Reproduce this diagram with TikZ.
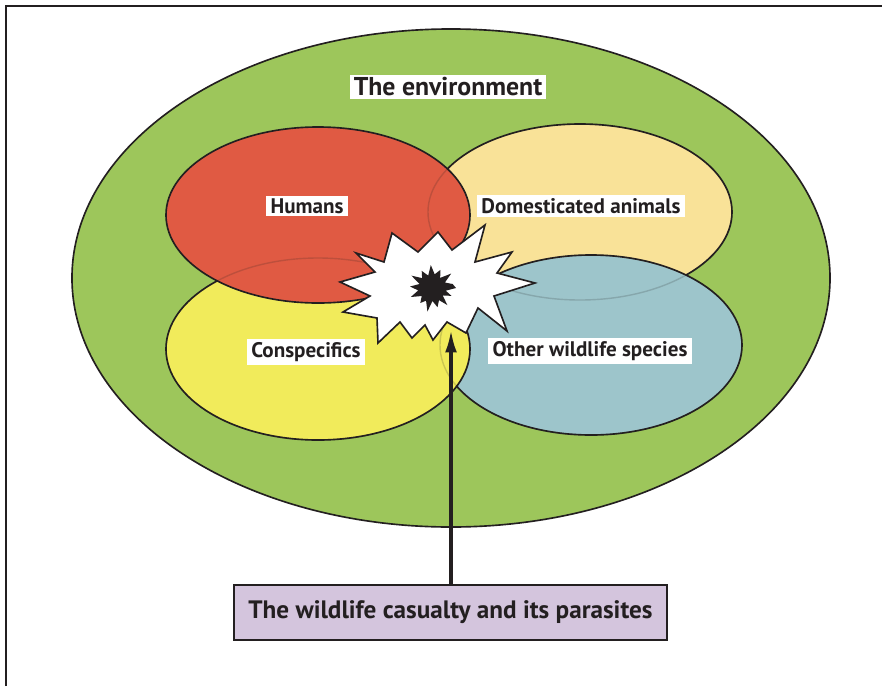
\documentclass[tikz,border=0pt]{standalone}
\usepackage{fontspec}
\setmainfont{PT Sans}
\usetikzlibrary{shapes.geometric,arrows.meta}
\definecolor{envgreen}{HTML}{9DC65B}
\definecolor{humred}{HTML}{E05A43}
\definecolor{domwheat}{HTML}{F9E298}
\definecolor{conyellow}{HTML}{F1EB5B}
\definecolor{wildblue}{HTML}{9DC5CB}
\definecolor{caslilac}{HTML}{D4C5DD}
\definecolor{inkdark}{HTML}{231F20}
\begin{document}
\begin{tikzpicture}[x=0.03cm,y=-0.03cm,
  zone/.style={ellipse, draw=inkdark, line width=1.4pt, inner sep=0pt},
  ghost/.style={ellipse, draw=inkdark, draw opacity=0.18, line width=1.2pt, inner sep=0pt},
  tag/.style={fill=white, text=inkdark, font=\fontsize{18}{20}\selectfont\bfseries, inner xsep=4pt, inner ysep=2.5pt},
  pointer/.style={draw=inkdark, line width=2.8pt, -{Latex[length=19pt,width=10pt]}}
]
\useasboundingbox (0,0) rectangle (882,686);
% page frame
\draw[inkdark, line width=1.6pt] (6,686) -- (6,6) -- (882,6);

% the surrounding environment
\node[zone, fill=envgreen, minimum width=22.74cm, minimum height=14.94cm] (env) at (451,278) {};

% overlapping circles of contact
\node[zone, fill=domwheat, minimum width=9.12cm, minimum height=5.28cm] (dom) at (580,212) {};
\node[zone, fill=wildblue, minimum width=9.06cm, minimum height=5.4cm] (wild) at (591,345) {};
\node[zone, fill=conyellow, minimum width=9.12cm, minimum height=5.46cm] (con) at (318,349) {};
\node[zone, fill=humred, minimum width=9.12cm, minimum height=5.28cm] (hum) at (318,215) {};
% faint traces of the hidden edges
\node[ghost, minimum width=9.12cm, minimum height=5.28cm] at (dom) {};
\node[ghost, minimum width=9.06cm, minimum height=5.4cm] at (wild) {};
\node[ghost, minimum width=9.12cm, minimum height=5.46cm] at (con) {};

% the casualty burst
\draw[inkdark, fill=white, line width=1.4pt, line join=miter]
  (356,253) -- (384,262) -- (392,233) -- (418,252) -- (438,232) -- (452,250)
  -- (485,225) -- (475,262) -- (512,252) -- (497,273) -- (535,283) -- (494,296)
  -- (507,331) -- (478,308) -- (466,333) -- (447,322) -- (433,340) -- (425,325)
  -- (412,338) -- (400,322) -- (378,343) -- (377,318) -- (343,312) -- (370,296)
  -- (340,282) -- (375,272) -- cycle;
\begin{scope}[shift={(432,288)}]
  \fill[inkdark] (0:24) \foreach \a/\r in {11/14,22/21,35/13,48/23,60/14,74/20,88/13,101/24,
    115/14,128/19,142/13,157/23,170/14,184/22,198/13,211/24,225/14,239/20,253/13,
    267/23,281/14,295/20,309/13,323/24,337/14,349/21} { -- (\a:\r) } -- cycle;
\end{scope}
\coordinate (hit) at (451,330);

% labels
\node[tag, font=\fontsize{22}{24}\selectfont\bfseries, inner ysep=2.5pt, inner xsep=3.5pt] (envlbl) at (448,87) {The environment};
\node[tag] (humlbl) at (307,206) {Humans};
\node[tag] (domlbl) at (581,206) {Domesticated animals};
\node[tag] (conlbl) at (306,352) {Conspecifics};
\node[tag] (wildlbl) at (590,351) {Other wildlife species};

% the casualty box and its pointer
\node[draw=inkdark, fill=caslilac, line width=1.6pt, text=inkdark,
      font=\fontsize{21.5}{23}\selectfont\bfseries,
      minimum width=12.99cm, minimum height=1.65cm] (cas) at (450.5,612.5)
      {The wildlife casualty and its parasites};
\draw[pointer] (cas.north -| hit) -- (hit);
\end{tikzpicture}
\end{document}
